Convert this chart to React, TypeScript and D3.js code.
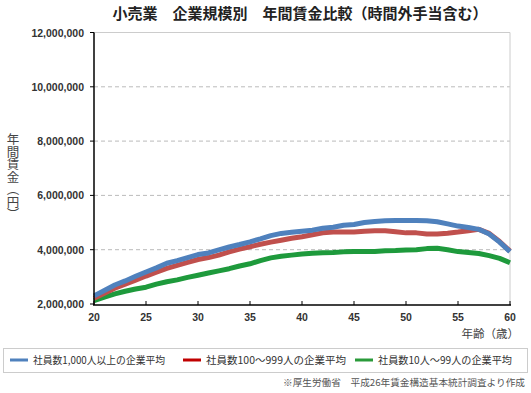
import React from "react";
import * as d3 from "d3";

const ages = d3.range(20, 61);
const large = [
  2.3, 2.5, 2.7, 2.85, 3.02, 3.18, 3.33, 3.5, 3.6, 3.71, 3.82, 3.88, 3.99, 4.1, 4.19, 4.29, 4.4, 4.52, 4.6, 4.64,
  4.68, 4.72, 4.79, 4.83, 4.9, 4.93, 5.0, 5.04, 5.07, 5.08, 5.08, 5.08, 5.07, 5.03, 4.95, 4.87, 4.82, 4.75, 4.58,
  4.28, 3.93,
];
const medium = [
  2.21, 2.4, 2.58, 2.73, 2.88, 3.03, 3.17, 3.31, 3.42, 3.53, 3.64, 3.71, 3.8, 3.92, 4.02, 4.11, 4.2, 4.28, 4.35,
  4.42, 4.48, 4.55, 4.62, 4.65, 4.65, 4.65, 4.68, 4.7, 4.7, 4.66, 4.62, 4.62, 4.58, 4.58, 4.61, 4.65, 4.7, 4.75,
  4.6, 4.3, 3.95,
];
const small = [
  2.12, 2.25, 2.37, 2.47, 2.55, 2.62, 2.73, 2.82, 2.89, 2.98, 3.06, 3.14, 3.22, 3.3, 3.4, 3.48, 3.6, 3.7, 3.76,
  3.8, 3.84, 3.87, 3.89, 3.9, 3.92, 3.93, 3.93, 3.93, 3.96, 3.97, 3.99, 4.0, 4.04, 4.05, 4.0, 3.93, 3.9, 3.86,
  3.78, 3.68, 3.52,
];
const seriesNames = ["社員数1,000人以上の企業平均", "社員数100〜999人の企業平均", "社員数10人〜99人の企業平均"];
const xTicks = [20, 25, 30, 35, 40, 45, 50, 55, 60];
const yTicks = [2000000, 4000000, 6000000, 8000000, 10000000, 12000000];

const W = 531;
const H = 393;
const font = "'Liberation Sans', 'Noto Sans CJK JP', sans-serif";
const jp = "'Noto Sans CJK JP', sans-serif";

export default function App() {
  const x = d3.scaleLinear().domain([20, 60]).range([94, 510]);
  const y = d3.scaleLinear().domain([2000000, 12000000]).range([304, 32.5]);
  const line = d3
    .line<number>()
    .x((_, i) => x(ages[i]))
    .y((d) => y(d * 1000000));

  const lines = [
    { data: small, color: "#1e9a3c" },
    { data: medium, color: "#c0504d" },
    { data: large, color: "#4f81bd" },
  ];
  const legendColors = ["#4f81bd", "#c00000", "#2a9a3a"];
  const legendX = [10, 183, 355];
  const legendLen = [132, 140, 134];
  const fmt = d3.format(",");

  return (
    <svg width={W} height={H} style={{ position: "absolute", left: 0, top: 0, background: "#fff" }}>
      <text x={300} y={19} textAnchor="middle" fontFamily={jp} fontWeight="bold" fontSize={15} fill="#222">
        小売業　企業規模別　年間賃金比較（時間外手当含む）
      </text>

      {yTicks.slice(1, -1).map((t) => (
        <line key={t} x1={94} x2={510} y1={y(t)} y2={y(t)} stroke="#bbb" strokeDasharray="4,3" strokeWidth={1} />
      ))}
      <line x1={94} x2={510} y1={y(12000000)} y2={y(12000000)} stroke="#ccc" />
      <line x1={510} x2={510} y1={y(12000000)} y2={305} stroke="#ccc" />

      {lines.map((s, i) => (
        <path
          key={i}
          d={line(s.data) || ""}
          fill="none"
          stroke={s.color}
          strokeWidth={5}
          strokeLinejoin="round"
          strokeLinecap="butt"
        />
      ))}

      <line x1={94} x2={94} y1={y(12000000)} y2={305} stroke="#000" strokeWidth={1.5} />
      <line x1={93} x2={511} y1={305} y2={305} stroke="#000" strokeWidth={1.5} />
      {yTicks.map((t) => (
        <g key={t}>
          <line x1={90} x2={94} y1={y(t)} y2={y(t)} stroke="#000" />
          <text x={84} y={y(t) + 4} textAnchor="end" fontFamily={font} fontWeight="bold" fontSize={10.5} fill="#333">
            {fmt(t)}
          </text>
        </g>
      ))}
      {xTicks.map((t) => (
        <g key={t}>
          <line x1={x(t)} x2={x(t)} y1={301} y2={305} stroke="#000" />
          <text x={x(t)} y={321} textAnchor="middle" fontFamily={font} fontWeight="bold" fontSize={10.5} fill="#333">
            {t}
          </text>
        </g>
      ))}
      <text x={519} y={338} textAnchor="end" fontFamily={jp} fontSize={11.5} fill="#444">
        年齢（歳）
      </text>
      <text
        x={13}
        y={133}
        fontFamily={jp}
        fontSize={12.5}
        fill="#444"
        style={{ writingMode: "vertical-rl" } as React.CSSProperties}
      >
        年間賃金（円）
      </text>

      <rect x={3.5} y={348.5} width={524} height={24} fill="#fff" stroke="#ccc" />
      {seriesNames.map((n, i) => (
        <g key={n}>
          <line x1={legendX[i]} x2={legendX[i] + 18} y1={360} y2={360} stroke={legendColors[i]} strokeWidth={3} />
          <text
            x={legendX[i] + 23}
            y={364}
            fontFamily={jp}
            fontSize={10.5}
            fill="#333"
            textLength={legendLen[i]}
            lengthAdjust="spacingAndGlyphs"
          >
            {n}
          </text>
        </g>
      ))}
      <text
        x={283}
        y={386}
        fontFamily={jp}
        fontSize={9.5}
        fill="#555"
        textLength={242}
        lengthAdjust="spacingAndGlyphs"
      >
        ※厚生労働省　平成26年賃金構造基本統計調査より作成
      </text>
    </svg>
  );
}
